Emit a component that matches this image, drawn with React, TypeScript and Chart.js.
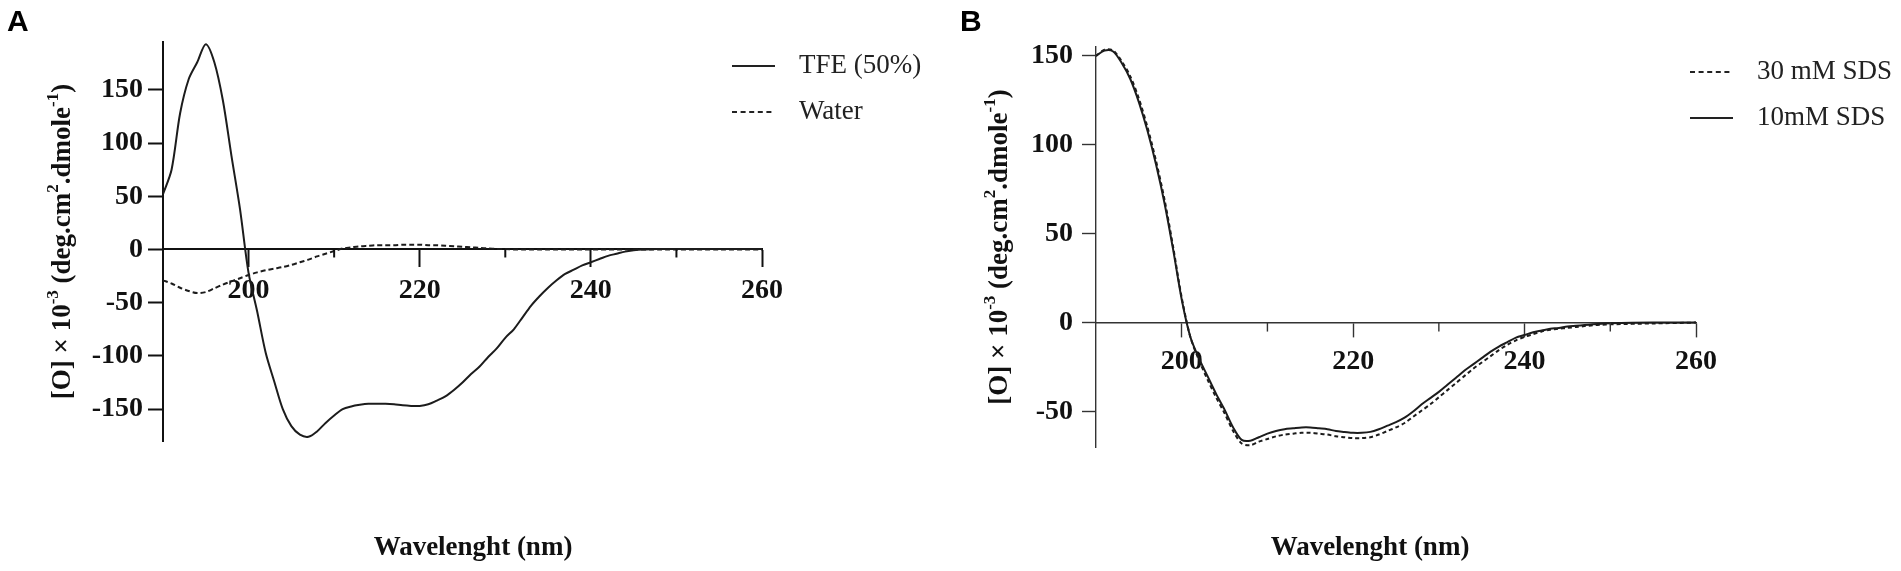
import React, { useEffect, useRef } from 'react';
import { Chart, registerables } from 'chart.js';

Chart.register(...registerables);

const SERIF = '"Liberation Serif", "Times New Roman", Times, serif';
const SANS = '"Liberation Sans", Arial, Helvetica, sans-serif';

// ---- Panel A: TFE (50%) vs water ----
const wlA = [
  190, 191, 192, 193, 194, 195, 196, 197, 198, 199, 200, 201, 202, 203, 204, 205, 206, 207, 208, 209,
  210, 211, 212, 213, 214, 215, 216, 217, 218, 219, 220, 221, 222, 223, 224, 225, 226, 227, 228, 229,
  230, 231, 232, 233, 234, 235, 236, 237, 238, 239, 240, 241, 242, 243, 244, 245, 246, 247, 248, 249,
  250, 255, 260,
];
const tfe50 = [
  52, 75, 128, 160, 176, 193, 176, 140, 88, 38, -22, -58, -97, -124, -150, -166, -174, -176, -171, -163,
  -156, -150, -147.5, -146, -145, -145, -145, -145.5, -146.5, -147, -147, -145.5, -142, -138, -132, -125, -117, -110, -101, -93,
  -83, -75, -64, -53, -44, -36, -29, -23, -19, -15, -12, -9, -6, -4, -2, -0.8, 0, 0.3, 0.4, 0.5,
  0.5, 0.5, 0.5,
];
const water = [
  -29, -32, -36, -39, -41, -40, -36.5, -33, -30, -27, -24, -21.5, -19.5, -18, -16.5, -14.5, -12, -9.5, -6.5, -4,
  -1.5, 1, 2, 3, 3.5, 4, 4, 4, 4.5, 4.5, 4.5, 4, 4, 3.5, 3, 2.5, 2, 1.5, 1, 0.5,
  0.5, 0, 0, 0, 0, 0, 0, 0, 0, 0, 0, 0, 0, 0, 0, 0, 0, 0, 0, 0,
  0, 0, 0,
];

// ---- Panel B: SDS ----
const wlB = wlA;
const sds10 = [
  150, 153, 152.5, 146, 137, 124, 108, 89, 67, 41, 13, -8, -20, -30, -40, -49, -59, -66, -66.5, -64.5,
  -62.5, -61, -60, -59.5, -59, -59, -59.5, -60, -61, -61.5, -62, -62, -61.5, -60, -58, -56, -53.5, -50, -46, -42.5,
  -39, -35, -31, -27, -23.5, -20, -16.5, -13.5, -11, -8.5, -7, -5.5, -4.5, -3.5, -3, -2.2, -1.8, -1.4, -1, -0.7,
  -0.4, 0, 0,
];
const sds30 = [
  150, 153.5, 153, 147, 138.5, 126, 110, 91, 69, 42.5, 14, -8, -21, -32, -42, -51, -61, -68, -69, -67,
  -65.5, -64, -63, -62.5, -62, -62, -62.5, -63, -64, -64.5, -65, -65, -64.5, -63, -61, -59, -56.5, -53, -49.5, -46,
  -42, -38, -34, -30, -26, -22.5, -19, -15.5, -12.5, -10, -8, -6.5, -5, -4, -3.5, -3, -2.5, -2, -1.5, -1.2,
  -1, -0.5, 0,
];

const xMajor = [200, 220, 240, 260];
const xMinor = [210, 230, 250];
const yTicksA = [-150, -100, -50, 0, 50, 100, 150];
const yTicksB = [-50, 0, 50, 100, 150];

const xTitle = 'Wavelenght (nm)';
const yTitleParts: [string, boolean][] = [
  ['[O] × 10', false], ['-3', true], [' (deg.cm', false], ['2', true], ['.dmole', false], ['-1', true], [')', false],
];

const toPts = (xs: number[], ys: number[]) => xs.map((x, i) => ({ x, y: ys[i] }));

type Panel = {
  letter: string;
  datasets: any[];
  legend: { label: string; dash: number[] }[];
  yMin: number; yMax: number; yTicks: number[];
  area: { left: number; top: number; right: number; bottom: number };
  width: number; height: number;
  axisW: number; axisColor: string;
  yTick: number; yPad: number; xTick: number; xMinorLen: number; xPad: number;
  legendX: number; legendY: number[]; textX: number;
  yTitleX: number; xTitleX: number;
};

function drawRich(ctx: CanvasRenderingContext2D, cx: number, cy: number) {
  ctx.save();
  ctx.translate(cx, cy);
  ctx.rotate(-Math.PI / 2);
  const big = `bold 27px ${SERIF}`;
  const small = `bold 17px ${SERIF}`;
  let total = 0;
  for (const [t, sup] of yTitleParts) {
    ctx.font = sup ? small : big;
    total += ctx.measureText(t).width;
  }
  let x = -total / 2;
  ctx.textBaseline = 'middle';
  ctx.textAlign = 'left';
  ctx.fillStyle = '#111';
  for (const [t, sup] of yTitleParts) {
    ctx.font = sup ? small : big;
    ctx.fillText(t, x, sup ? -9 : 0);
    x += ctx.measureText(t).width;
  }
  ctx.restore();
}

function decor(p: Panel) {
  return {
    id: 'decor' + p.letter,
    afterDraw(chart: any) {
      const ctx = chart.ctx as CanvasRenderingContext2D;
      const xs = chart.scales.x;
      const ys = chart.scales.y;
      const y0 = ys.getPixelForValue(0);
      ctx.save();
      // minor ticks
      ctx.strokeStyle = p.axisColor;
      ctx.lineWidth = p.axisW;
      for (const v of xMinor) {
        const px = xs.getPixelForValue(v);
        ctx.beginPath();
        ctx.moveTo(px, y0);
        ctx.lineTo(px, y0 + p.xMinorLen);
        ctx.stroke();
      }
      // panel letter
      ctx.fillStyle = '#000';
      ctx.font = `bold 30px ${SANS}`;
      ctx.textBaseline = 'top';
      ctx.textAlign = 'left';
      ctx.fillText(p.letter, p.letter === 'A' ? 7 : 10, 8);
      // x title
      ctx.font = `bold 27px ${SERIF}`;
      ctx.textAlign = 'center';
      ctx.textBaseline = 'middle';
      ctx.fillStyle = '#111';
      ctx.fillText(xTitle, p.xTitleX, 548);
      // y title
      drawRich(ctx, p.yTitleX, (chart.chartArea.top + chart.chartArea.bottom) / 2);
      // legend
      ctx.font = `27px ${SERIF}`;
      ctx.textAlign = 'left';
      p.legend.forEach((it, i) => {
        const ly = p.legendY[i];
        ctx.strokeStyle = '#222';
        ctx.lineWidth = 2;
        ctx.setLineDash(it.dash);
        ctx.beginPath();
        ctx.moveTo(p.legendX, ly);
        ctx.lineTo(p.legendX + 43, ly);
        ctx.stroke();
        ctx.setLineDash([]);
        ctx.fillStyle = '#222';
        ctx.fillText(it.label, p.textX, ly);
      });
      ctx.restore();
    },
  };
}

function makeConfig(p: Panel) {
  const tickFont = { family: SERIF, size: 28, weight: 'bold' as const };
  return {
    type: 'line',
    data: { datasets: p.datasets },
    options: {
      animation: false,
      responsive: true,
      maintainAspectRatio: false,
      layout: {
        padding: { left: 0, top: p.area.top, right: p.width - p.area.right, bottom: p.height - p.area.bottom },
      },
      plugins: { legend: { display: false }, tooltip: { enabled: false }, title: { display: false } },
      elements: { point: { radius: 0 }, line: { tension: 0.3 } },
      scales: {
        x: {
          type: 'linear',
          min: 190,
          max: 260,
          position: { y: 0 },
          afterBuildTicks: (s: any) => { s.ticks = xMajor.map((value) => ({ value })); },
          ticks: { font: tickFont, color: '#111', padding: p.xPad, autoSkip: false, maxRotation: 0 },
          grid: { drawOnChartArea: false, drawTicks: true, tickLength: p.xTick, tickWidth: p.axisW, tickColor: p.axisColor },
          border: { display: true, color: p.axisColor, width: p.axisW },
        },
        y: {
          type: 'linear',
          position: 'left',
          min: p.yMin,
          max: p.yMax,
          afterBuildTicks: (s: any) => { s.ticks = p.yTicks.map((value) => ({ value })); },
          afterFit: (s: any) => { s.width = p.area.left; },
          ticks: { font: tickFont, color: '#111', padding: p.yPad },
          grid: { drawOnChartArea: false, drawTicks: true, tickLength: p.yTick, tickWidth: p.axisW, tickColor: p.axisColor },
          border: { display: true, color: p.axisColor, width: p.axisW },
        },
      },
    },
    plugins: [decor(p)],
  } as any;
}

const line = (label: string, xs: number[], ys: number[], dash: number[]) => ({
  label,
  data: toPts(xs, ys),
  borderColor: '#1c1c1c',
  borderWidth: 2,
  borderDash: dash,
  pointRadius: 0,
  fill: false,
});

const panelA: Panel = {
  letter: 'A',
  datasets: [line('TFE (50%)', wlA, tfe50, []), line('Water', wlA, water, [5, 3])],
  legend: [{ label: 'TFE (50%)', dash: [] }, { label: 'Water', dash: [5, 3.6] }],
  yMin: -180, yMax: 195, yTicks: yTicksA,
  area: { left: 163, top: 42, right: 762, bottom: 441 },
  width: 950, height: 571,
  axisW: 2, axisColor: '#111',
  yTick: 15, yPad: 5, xTick: 17, xMinorLen: 8, xPad: 7,
  legendX: 732, legendY: [66, 112], textX: 799,
  yTitleX: 63, xTitleX: 473,
};

const panelB: Panel = {
  letter: 'B',
  datasets: [line('30 mM SDS', wlB, sds30, [4, 3]), line('10mM SDS', wlB, sds10, [])],
  legend: [{ label: '30 mM SDS', dash: [5, 3.6] }, { label: '10mM SDS', dash: [] }],
  yMin: -70, yMax: 155, yTicks: yTicksB,
  area: { left: 146, top: 47, right: 746, bottom: 447 },
  width: 951, height: 571,
  axisW: 1.4, axisColor: '#333',
  yTick: 14, yPad: 9, xTick: 14, xMinorLen: 9, xPad: 8,
  legendX: 740, legendY: [72, 118], textX: 807,
  yTitleX: 50, xTitleX: 420,
};

function ChartPanel({ panel, left }: { panel: Panel; left: number }) {
  const canvasRef = useRef<HTMLCanvasElement | null>(null);
  const chartRef = useRef<Chart | null>(null);

  useEffect(() => {
    const ctx = canvasRef.current?.getContext('2d');
    if (!ctx) return;
    try { chartRef.current?.destroy(); } catch {}
    chartRef.current = new Chart(ctx, makeConfig(panel));
    return () => {
      try { chartRef.current?.destroy(); } catch {}
      chartRef.current = null;
    };
  }, [panel]);

  return (
    <div style={{ position: 'absolute', left, top: 0, width: panel.width, height: panel.height }}>
      <canvas ref={canvasRef} />
    </div>
  );
}

export default function App() {
  return (
    <div style={{ position: 'fixed', left: 0, top: 0, width: 1901, height: 571, background: '#fff' }}>
      <ChartPanel panel={panelA} left={0} />
      <ChartPanel panel={panelB} left={950} />
    </div>
  );
}
